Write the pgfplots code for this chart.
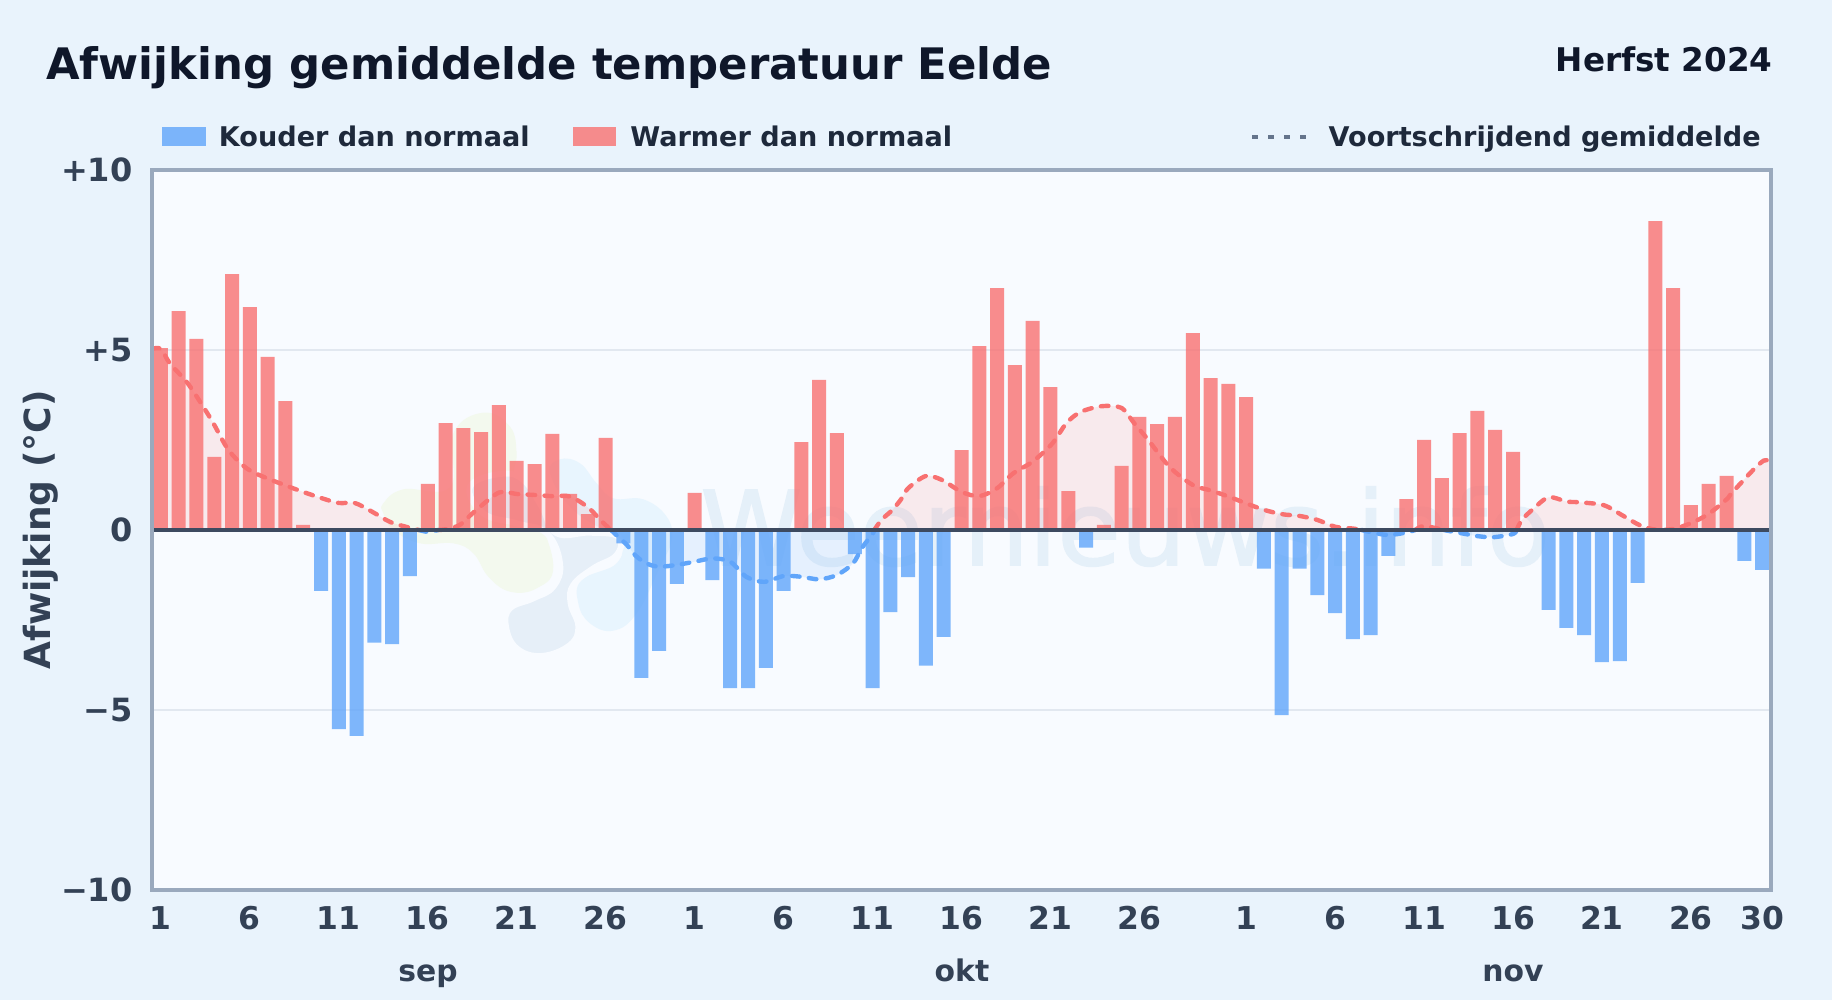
\documentclass[border=0pt]{standalone}
\usepackage{fontspec}
\setmainfont{DejaVu Sans}
\usepackage{pgfplots}
\usepackage{pgfplotstable}
\pgfplotsset{compat=1.18}
\definecolor{pagebg}{HTML}{E9F3FC}
\definecolor{plotbg}{HTML}{F8FBFF}
\definecolor{frameclr}{HTML}{9AA9BD}
\definecolor{gridc}{HTML}{E2E8F0}
\definecolor{zero}{HTML}{3D4A60}
\definecolor{tickc}{HTML}{334155}
\definecolor{titlec}{HTML}{0F172A}
\definecolor{legc}{HTML}{1E293B}
\definecolor{cold}{HTML}{60A5FA}
\definecolor{warm}{HTML}{F87171}
\definecolor{dotc}{HTML}{64748B}
\definecolor{wmgreen}{HTML}{F3F9EE}
\definecolor{wmlight}{HTML}{E8F5FE}
\definecolor{wmdark}{HTML}{E6EFF8}
\definecolor{wmtext}{HTML}{E5F0F9}
\pgfplotstableread{
x y
1 5.05
2 6.08
3 5.31
4 2.03
5 7.11
6 6.19
7 4.81
8 3.58
9 0.14
16 1.28
17 2.97
18 2.83
19 2.72
20 3.47
21 1.92
22 1.83
23 2.67
24 1.00
25 0.44
26 2.56
31 1.03
37 2.44
38 4.17
39 2.69
46 2.22
47 5.11
48 6.72
49 4.58
50 5.81
51 3.97
52 1.08
54 0.14
55 1.78
56 3.14
57 2.94
58 3.14
59 5.47
60 4.22
61 4.06
62 3.69
71 0.86
72 2.50
73 1.44
74 2.69
75 3.31
76 2.78
77 2.17
85 8.58
86 6.72
87 0.69
88 1.28
89 1.50
}\warmbars
\pgfplotstableread{
x y
10 -1.69
11 -5.53
12 -5.72
13 -3.13
14 -3.17
15 -1.28
27 -0.37
28 -4.11
29 -3.36
30 -1.50
32 -1.39
33 -4.39
34 -4.39
35 -3.83
36 -1.69
40 -0.67
41 -4.39
42 -2.28
43 -1.31
44 -3.77
45 -2.97
53 -0.49
63 -1.07
64 -5.14
65 -1.07
66 -1.81
67 -2.31
68 -3.03
69 -2.92
70 -0.72
79 -2.22
80 -2.72
81 -2.92
82 -3.67
83 -3.64
84 -1.47
90 -0.86
91 -1.11
}\coldbars
\pgfplotstableread{
x y
0.5 5.03
1 5.03
1.5 4.63
2.5 4.08
3.5 3.33
4 2.92
4.8 2.22
5.8 1.72
6.8 1.47
8.7 1.11
10 .89
11 .75
11.9 .75
12.9 .5
13.9 .22
15 .06
15.5 0
}\maA
\pgfplotstableread{
x y
15.5 0
16 -.05
16.6 0
}\maB
\pgfplotstableread{
x y
16.6 0
17 .02
17.8 .14
18.6 .5
20 1.04
21 1.0
22.1 .97
23 .94
24 .93
25 .63
25.8 .23
26.3 0
}\maC
\pgfplotstableread{
x y
26.3 0
26.6 -.14
27.2 -.42
27.7 -.72
28.3 -.93
29 -1.02
30 -.97
31 -.88
32 -.79
33 -.88
33.9 -1.3
34.9 -1.44
36 -1.28
37 -1.3
38 -1.37
39 -1.25
39.9 -.93
40.4 -.5
41 -.11
41.1 0
}\maD
\pgfplotstableread{
x y
41.1 0
41.5 .28
42.1 .55
42.6 .85
43 1.16
44 1.5
44.9 1.39
46 1.06
47 .94
48 1.16
48.9 1.57
50 1.9
51.1 2.4
51.9 2.97
52.7 3.28
53.9 3.44
55 3.39
55.7 2.97
56.5 2.5
57.7 1.75
59 1.25
60 1.1
61 .93
62 .74
63 .56
64 .44
65 .39
66 .28
67 .09
68 .04
68.5 0
}\maE
\pgfplotstableread{
x y
68.5 0
69.1 -.07
70 -.14
71 -.07
71.5 0
}\maF
\pgfplotstableread{
x y
71.5 0
72 .11
73.1 0
}\maG
\pgfplotstableread{
x y
73.1 0
74.1 -.09
75 -.17
75.9 -.2
77 -.11
77.2 0
}\maH
\pgfplotstableread{
x y
77.2 0
77.5 .28
78.1 .57
79 .91
80 .79
80.7 .77
82.1 .69
83.1 .42
84.1 .14
85 0.01
86 .03
87 .19
88 .45
89 .85
89.3 1.03
90.5 1.67
91.1 1.93
91.45 1.93
}\maI
\newcommand\maseg[2]{%
  \addplot[draw=none,fill=#2,fill opacity=.12,smooth,tension=.5,forget plot] table {#1} \closedcycle;
  \addplot[#2,line width=2.2pt,line cap=round,dash pattern=on 3.8pt off 4.7pt,smooth,tension=.5,forget plot] table {#1};
}
\begin{document}
\begin{tikzpicture}
\fill[pagebg] (-76pt,-55pt) rectangle (840pt,445pt);
\fill[plotbg] (0,0) rectangle (809.5pt,360pt);
% watermark
\begin{scope}[x=0.16667pt,y=-0.16667pt,shift={(104pt,245pt)}]
\fill[wmgreen] plot[smooth cycle,tension=.7] coordinates {(70,310)(130,268)(270,262)(280,100)(370,38)(450,80)(470,160)(465,235)(530,340)(580,500)(530,565)(450,575)(385,530)(340,460)(280,430)(180,430)(100,390)(70,340)};
\fill[wmlight] plot[smooth cycle,tension=.7] coordinates {(570,220)(600,178)(660,190)(710,250)(760,295)(850,298)(920,350)(935,420)(900,500)(830,640)(760,692)(690,670)(655,610)(665,540)(770,490)(770,420)(640,330)};
\filldraw[fill=wmdark,draw=plotbg,line width=3pt] plot[smooth cycle,tension=.7] coordinates {(330,260)(420,222)(490,240)(545,320)(590,400)(690,398)(775,410)(770,465)(700,505)(640,555)(632,610)(655,680)(630,735)(545,768)(470,745)(438,680)(450,625)(520,595)(580,560)(600,490)(560,400)(470,370)(370,340)};
\end{scope}
\begin{scope}[x=0.5pt,y=-0.5pt,shift={(-76pt,445pt)}]
\node[anchor=base west,inner sep=0pt,text=wmtext,font=\fontsize{51.5pt}{51.5pt}\selectfont\addfontfeature{FakeBold=1.5}] at (700,565) {Weernieuws.info};
\end{scope}
\begin{axis}[
  at={(0,0)},anchor=south west,
  scale only axis,width=809.5pt,height=360pt,
  xmin=0.5,xmax=91.5,ymin=-10,ymax=10,
  xtick={1,6,11,16,21,26,31,36,41,46,51,56,62,67,72,77,82,87,91},
  xticklabels={1,6,11,16,21,26,1,6,11,16,21,26,1,6,11,16,21,26,30},
  ytick={-10,-5,0,5,10},
  yticklabels={−10,−5,0,+5,+10},
  major tick length=0pt,
  xticklabel style={font=\fontsize{15.7pt}{15.7pt}\selectfont\bfseries,text=tickc,anchor=base,yshift=-20pt},
  yticklabel style={font=\fontsize{16pt}{16pt}\selectfont\bfseries,text=tickc,anchor=east,xshift=-6.25pt},
  ylabel={Afwijking (°C)},
  ylabel style={at={(axis description cs:-0.069,0.5)},anchor=center,font=\fontsize{18pt}{18pt}\selectfont\bfseries,text=tickc},
  axis line style={draw=none},
  ymajorgrids,
  grid style={gridc,line width=.75pt},
  clip=true,
]
\maseg{\maA}{warm}
\maseg{\maB}{cold}
\maseg{\maC}{warm}
\maseg{\maD}{cold}
\maseg{\maE}{warm}
\maseg{\maF}{cold}
\maseg{\maG}{warm}
\maseg{\maH}{cold}
\maseg{\maI}{warm}
\addplot[ybar,bar width=7pt,bar shift=0pt,draw=none,fill=warm,fill opacity=.8] table {\warmbars};
\addplot[ybar,bar width=7pt,bar shift=0pt,draw=none,fill=cold,fill opacity=.8] table {\coldbars};
\addplot[zero,line width=2pt] coordinates {(0.5,0) (91.5,0)};
\end{axis}
\draw[frameclr,line width=1.6pt] (0,0) rectangle (809.5pt,360pt);
\begin{scope}[x=0.5pt,y=-0.5pt,shift={(-76pt,445pt)}]
\node[anchor=base west,inner sep=0pt,text=titlec,font=\fontsize{21.7pt}{21.7pt}\selectfont\bfseries] at (46,80) {Afwijking gemiddelde temperatuur Eelde};
\node[anchor=base east,inner sep=0pt,text=titlec,font=\fontsize{16.3pt}{16.3pt}\selectfont\bfseries] at (1773,72) {Herfst 2024};
\fill[cold,opacity=.8] (162,127) rectangle (206,146);
\fill[warm,opacity=.8] (573,127) rectangle (616,146);
\draw[dotc,line width=2.4pt,dash pattern=on 3pt off 5pt] (1252,137) -- (1311,137);
\node[anchor=base west,inner sep=0pt,text=legc,font=\fontsize{13.55pt}{13.55pt}\selectfont\bfseries] at (218.5,146.5) {Kouder dan normaal};
\node[anchor=base west,inner sep=0pt,text=legc,font=\fontsize{13.55pt}{13.55pt}\selectfont\bfseries] at (630,146.5) {Warmer dan normaal};
\node[anchor=base east,inner sep=0pt,text=legc,font=\fontsize{13.55pt}{13.55pt}\selectfont\bfseries] at (1761,146.5) {Voortschrijdend gemiddelde};
\node[anchor=base,inner sep=0pt,text=tickc,font=\fontsize{14.9pt}{14.9pt}\selectfont\bfseries] at (428,982) {sep};
\node[anchor=base,inner sep=0pt,text=tickc,font=\fontsize{14.9pt}{14.9pt}\selectfont\bfseries] at (962,982) {okt};
\node[anchor=base,inner sep=0pt,text=tickc,font=\fontsize{14.9pt}{14.9pt}\selectfont\bfseries] at (1513,982) {nov};
\end{scope}
\end{tikzpicture}
\end{document}
